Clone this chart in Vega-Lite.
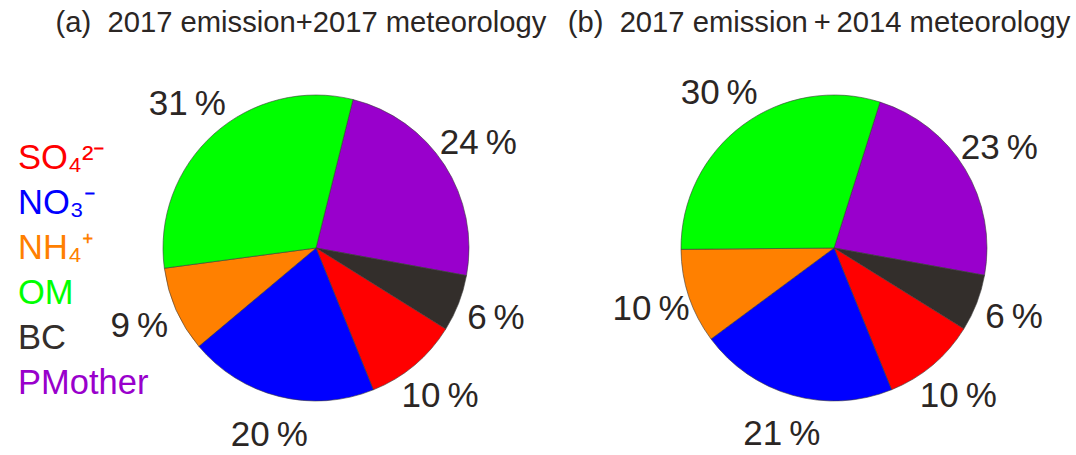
{
  "$schema": "https://vega.github.io/schema/vega-lite/v6.json",
  "padding": {"top": 8, "left": 0, "right": 0, "bottom": 0},
  "background": "white",
  "bounds": "flush",
  "spacing": 42,
  "config": {"view": {"stroke": null}, "font": "Liberation Sans"},
  "resolve": {"scale": {"theta": "independent", "color": "shared"}},
  "hconcat": [
    {
      "width": 36,
      "height": 315,
      "data": {"values": [
        {"key": "SO4", "label": "SO₄²⁻"},
        {"key": "NO3", "label": "NO₃⁻"},
        {"key": "NH4", "label": "NH₄⁺"},
        {"key": "OM", "label": "OM"},
        {"key": "BC", "label": "BC"},
        {"key": "PMother", "label": "PMother"}
      ]},
      "mark": {"type": "text", "align": "left", "baseline": "alphabetic", "fontSize": 34.5, "dy": 84},
      "encoding": {
        "y": {"field": "key", "type": "nominal", "sort": ["SO4", "NO3", "NH4", "OM", "BC", "PMother"], "axis": null, "scale": {"type": "point", "padding": 1}},
        "text": {"field": "label"},
        "color": {"field": "key", "type": "nominal", "legend": null,
          "scale": {"domain": ["PMother", "BC", "SO4", "NO3", "NH4", "OM"], "range": ["#9900CC", "#332E2B", "#FF0000", "#0000FF", "#FF8000", "#00FF00"]}}
      }
    },
    {
      "width": 476,
      "height": 416,
      "title": {"text": "(a) \u00a02017 emission+2017 meteorology", "fontSize": 29.2, "fontWeight": "normal", "color": "#2b2624", "dx": -15, "offset": 2},
      "data": {"values": [
        {"key": "PMother", "i": 1, "value": 24, "label": "24\u2009%"},
        {"key": "BC", "i": 2, "value": 6, "label": "6\u2009%"},
        {"key": "SO4", "i": 3, "value": 10, "label": "10\u2009%"},
        {"key": "NO3", "i": 4, "value": 20, "label": "20\u2009%"},
        {"key": "NH4", "i": 5, "value": 9, "label": "9\u2009%"},
        {"key": "OM", "i": 6, "value": 31, "label": "31\u2009%"}
      ]},
      "encoding": {
        "theta": {"field": "value", "type": "quantitative", "stack": true, "scale": {"range": [0.2443, 6.5275]}},
        "order": {"field": "i", "type": "quantitative"},
        "color": {"field": "key", "type": "nominal", "legend": null,
          "scale": {"domain": ["PMother", "BC", "SO4", "NO3", "NH4", "OM"], "range": ["#9900CC", "#332E2B", "#FF0000", "#0000FF", "#FF8000", "#00FF00"]}}
      },
      "layer": [
        {"mark": {"type": "arc", "outerRadius": 153, "stroke": "#3a3a3a", "strokeWidth": 0.6}},
        {"mark": {"type": "text", "radius": 193, "fontSize": 35, "align": "center", "baseline": "middle"},
          "encoding": {"text": {"field": "label"}, "color": {"value": "#2b2624"}, "detail": {"field": "key", "type": "nominal"}}}
      ]
    },
    {
      "width": 476,
      "height": 416,
      "title": {"text": "(b) \u00a02017 emission\u2009+\u20092014 meteorology", "fontSize": 29.2, "fontWeight": "normal", "color": "#2b2624", "dx": -15, "offset": 2},
      "data": {"values": [
        {"key": "PMother", "i": 1, "value": 23, "label": "23\u2009%"},
        {"key": "BC", "i": 2, "value": 6, "label": "6\u2009%"},
        {"key": "SO4", "i": 3, "value": 10, "label": "10\u2009%"},
        {"key": "NO3", "i": 4, "value": 21, "label": "21\u2009%"},
        {"key": "NH4", "i": 5, "value": 10, "label": "10\u2009%"},
        {"key": "OM", "i": 6, "value": 30, "label": "30\u2009%"}
      ]},
      "encoding": {
        "theta": {"field": "value", "type": "quantitative", "stack": true, "scale": {"range": [0.3054, 6.5886]}},
        "order": {"field": "i", "type": "quantitative"},
        "color": {"field": "key", "type": "nominal", "legend": null,
          "scale": {"domain": ["PMother", "BC", "SO4", "NO3", "NH4", "OM"], "range": ["#9900CC", "#332E2B", "#FF0000", "#0000FF", "#FF8000", "#00FF00"]}}
      },
      "layer": [
        {"mark": {"type": "arc", "outerRadius": 153, "stroke": "#3a3a3a", "strokeWidth": 0.6}},
        {"mark": {"type": "text", "radius": 193, "fontSize": 35, "align": "center", "baseline": "middle"},
          "encoding": {"text": {"field": "label"}, "color": {"value": "#2b2624"}, "detail": {"field": "key", "type": "nominal"}}}
      ]
    }
  ]
}
